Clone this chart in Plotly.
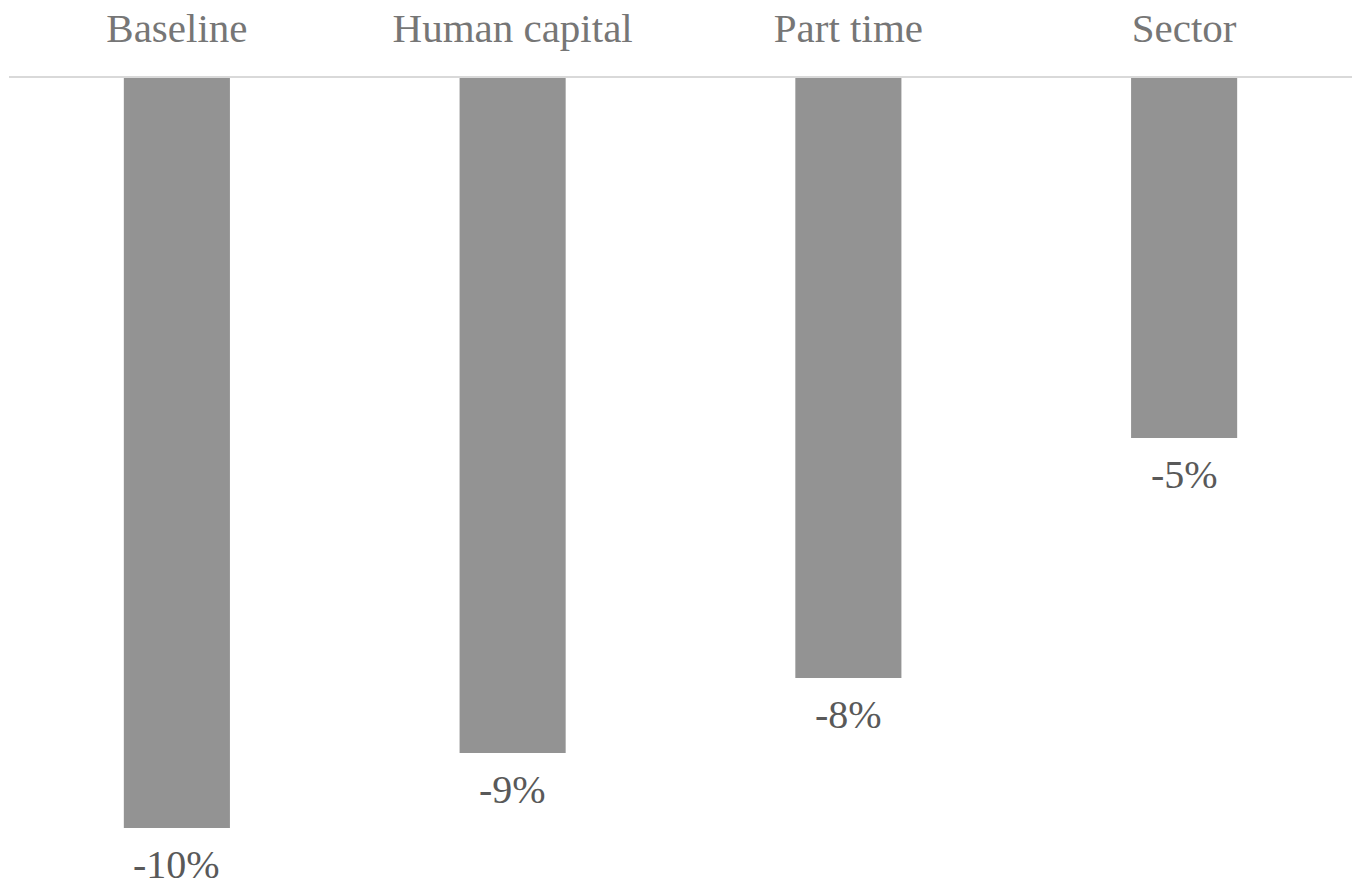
import plotly.graph_objects as go

# Change in outcome by model specification
categories = ["Baseline", "Human capital", "Part time", "Sector"]
values = [-0.100, -0.090, -0.080, -0.048]

fig = go.Figure(
    go.Bar(
        x=categories,
        y=values,
        marker=dict(color="#939393", line=dict(width=0)),
        cliponaxis=False,
    )
)

# Value labels beneath each bar
for cat, val in zip(categories, values):
    fig.add_annotation(
        x=cat,
        y=val,
        text=f"{val:.0%}",
        showarrow=False,
        yanchor="top",
        yshift=-12,
        font=dict(family="Liberation Serif", size=40, color="#595959"),
    )

fig.update_layout(
    width=1358,
    height=888,
    margin=dict(l=9, r=6, t=78, b=0),
    paper_bgcolor="white",
    plot_bgcolor="white",
    bargap=0.684,
    showlegend=False,
    xaxis=dict(
        side="top",
        showline=True,
        linecolor="#d9d9d9",
        linewidth=2,
        showgrid=False,
        ticks="",
        ticklabelstandoff=18,
        tickfont=dict(family="Liberation Serif", size=41, color="#767676"),
    ),
    yaxis=dict(
        range=[-0.108, 0],
        visible=False,
        showgrid=False,
        zeroline=False,
    ),
)

fig.write_html("out.html")
